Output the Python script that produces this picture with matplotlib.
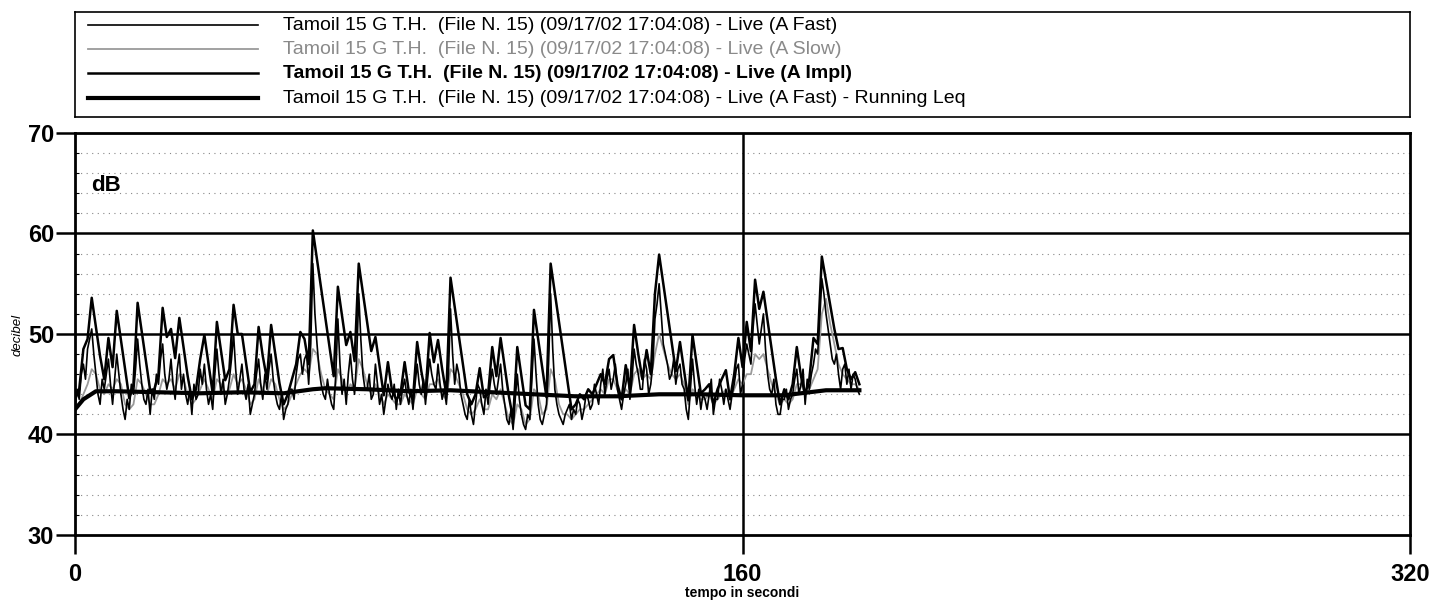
import matplotlib
matplotlib.use('Agg')
import matplotlib.pyplot as plt
from matplotlib.ticker import MultipleLocator

plt.rcParams['font.family'] = ['Liberation Sans', 'DejaVu Sans']

# A Fast, one sample every half second, 0..188 s
a_fast = [42.5, 44.5, 43.5, 46.0, 47.0, 45.5, 48.5, 49.5, 50.5, 48.0, 46.0, 44.0, 43.0, 45.5, 44.5, 46.0, 47.5, 45.0, 43.0, 45.5,
          48.0, 46.0, 44.0, 42.5, 41.5, 43.5, 42.5, 45.0, 44.0, 46.5, 49.5, 47.0, 45.0, 43.5, 43.0, 44.5, 42.0, 44.5, 43.5, 46.0,
          45.0, 47.5, 49.0, 46.0, 44.5, 45.5, 47.5, 45.0, 43.5, 46.5, 48.0, 44.5, 46.0, 44.0, 43.0, 44.5, 42.0, 45.0, 43.5, 44.0,
          46.5, 45.0, 47.0, 44.5, 43.0, 44.0, 42.5, 46.0, 48.5, 46.0, 44.0, 45.5, 43.0, 44.0, 45.5, 47.5, 50.0, 46.5, 44.0, 45.5,
          47.0, 44.5, 43.5, 45.0, 42.0, 43.0, 44.0, 46.0, 47.5, 45.0, 43.5, 46.0, 44.5, 46.5, 48.0, 45.5, 44.0, 43.0, 42.5, 44.0,
          41.5, 42.5, 43.0, 44.5, 44.5, 43.5, 46.0, 47.5, 48.0, 46.0, 47.5, 48.0, 45.0, 49.0, 57.0, 52.0, 49.0, 46.5, 45.0, 44.0,
          43.5, 45.5, 44.0, 43.0, 42.5, 46.0, 51.5, 47.0, 44.0, 45.5, 43.0, 46.0, 48.0, 45.5, 44.0, 47.5, 54.0, 49.5, 46.0, 44.5,
          44.5, 46.0, 43.5, 44.0, 47.0, 45.0, 43.0, 44.0, 42.0, 43.5, 45.0, 44.0, 43.5, 45.0, 42.5, 44.5, 43.0, 44.5, 45.5, 44.0,
          43.0, 44.5, 42.5, 45.0, 47.0, 45.0, 44.0, 45.5, 43.0, 45.5, 47.5, 46.0, 45.0, 44.5, 47.0, 45.0, 43.5, 44.5, 43.0, 46.0,
          52.5, 48.0, 45.0, 47.0, 46.0, 44.0, 43.0, 42.0, 41.5, 43.5, 42.0, 41.0, 43.0, 45.0, 44.5, 43.0, 42.0, 44.5, 43.0, 45.0,
          46.5, 45.0, 44.0, 45.5, 47.0, 44.5, 43.0, 41.5, 41.0, 42.5, 40.5, 43.5, 46.0, 43.5, 42.0, 41.0, 40.5, 42.0, 41.5, 45.5,
          49.5, 46.0, 43.0, 41.5, 41.0, 42.0, 43.0, 47.0, 54.0, 48.5, 44.5, 43.0, 42.0, 41.5, 41.0, 42.0, 42.5, 43.0, 41.5, 42.5,
          42.0, 43.5, 43.0, 41.5, 42.5, 44.0, 43.5, 42.5, 43.0, 45.0, 44.0, 43.0, 45.0, 46.5, 44.0, 45.5, 46.5, 44.5, 45.5, 47.0,
          44.5, 43.5, 42.5, 44.0, 45.0, 46.5, 43.5, 45.5, 48.5, 47.0, 46.0, 44.5, 44.5, 47.5, 46.5, 44.0, 45.0, 47.0, 51.5, 53.0,
          55.0, 52.0, 49.0, 48.0, 47.0, 45.5, 46.0, 47.5, 45.0, 46.5, 47.0, 45.0, 44.5, 42.5, 41.5, 44.5, 47.5, 45.0, 43.0, 44.5,
          42.5, 44.0, 43.5, 42.5, 44.0, 45.5, 42.0, 43.5, 43.5, 45.5, 44.5, 43.0, 44.5, 43.5, 42.5, 44.0, 45.0, 46.5, 47.0, 44.0,
          45.0, 47.5, 49.0, 48.0, 47.0, 50.5, 53.0, 51.0, 49.0, 50.5, 52.0, 48.5, 46.0, 44.5, 44.0, 45.5, 43.0, 42.0, 42.0, 43.5,
          43.5, 44.5, 42.5, 43.5, 44.0, 45.5, 46.5, 44.0, 45.0, 46.5, 43.0, 45.5, 44.5, 46.0, 47.0, 48.5, 48.0, 51.5, 55.5, 54.0,
          52.0, 50.5, 49.0, 47.5, 47.0, 48.0, 46.0, 44.5, 46.5, 47.0, 45.0, 46.5, 44.5, 46.0, 45.5, 44.5, 44.0]

# A Slow and A Impl, one sample per second, 0..188 s
a_slow = [42.5, 43.0, 44.0, 45.0, 46.5, 46.0, 44.5, 44.0, 45.0, 44.5,
          45.5, 45.0, 43.0, 42.5, 43.0, 45.5, 45.0, 44.0, 43.0, 43.0,
          44.0, 45.5, 45.0, 45.5, 44.5, 46.0, 45.5, 44.0, 43.0, 43.5,
          44.5, 45.5, 44.5, 43.5, 45.5, 45.0, 44.0, 44.5, 46.0, 45.0,
          45.5, 44.5, 43.0, 43.5, 45.5, 44.5, 44.0, 45.5, 45.0, 43.5,
          42.5, 43.0, 44.0, 45.0, 46.0, 46.5, 46.0, 48.5, 48.0, 46.0,
          44.5, 44.0, 43.5, 46.5, 45.5, 44.0, 45.0, 44.5, 47.5, 46.5,
          45.0, 44.0, 45.0, 44.0, 43.0, 44.0, 43.5, 43.0, 43.0, 44.0,
          43.5, 43.0, 44.5, 44.0, 43.5, 45.0, 45.0, 45.5, 44.0, 43.5,
          46.5, 46.0, 45.0, 44.0, 42.5, 42.0, 42.5, 43.5, 42.5, 42.5,
          44.0, 43.5, 44.5, 43.0, 41.5, 41.0, 43.0, 42.5, 41.0, 41.5,
          44.5, 44.0, 42.0, 42.5, 46.5, 45.5, 43.0, 42.0, 42.0, 41.5,
          42.0, 42.5, 42.5, 43.0, 43.5, 44.0, 44.5, 44.0, 45.5, 45.5,
          44.5, 43.5, 44.5, 44.0, 46.0, 46.5, 45.5, 46.0, 45.5, 48.0,
          50.0, 48.5, 47.0, 46.0, 45.5, 46.0, 45.0, 43.0, 44.5, 44.0,
          43.5, 43.5, 44.0, 43.0, 43.5, 44.0, 44.5, 43.5, 44.5, 45.5,
          45.0, 46.0, 46.0, 48.0, 47.5, 48.0, 46.5, 45.0, 44.0, 43.0,
          43.5, 43.0, 43.5, 45.0, 45.0, 44.0, 44.5, 45.5, 46.5, 52.0,
          53.5, 51.0, 49.0, 47.0, 46.0, 45.5, 45.0, 45.0, 44.5]

a_impl = [43.5, 44.5, 48.5, 49.5, 53.6, 50.7, 47.8, 45.5, 49.6, 46.7,
          52.3, 49.4, 46.5, 43.6, 45.0, 53.1, 50.2, 47.3, 44.4, 44.5,
          46.0, 52.6, 49.7, 50.5, 47.6, 51.6, 48.7, 45.8, 43.5, 44.5,
          47.5, 49.9, 47.0, 44.1, 51.2, 48.3, 45.4, 46.5, 52.9, 50.0,
          50.0, 47.1, 44.2, 45.0, 50.7, 47.8, 45.5, 50.9, 48.0, 45.1,
          43.0, 44.0, 45.5, 47.0, 50.2, 49.5, 47.0, 60.3, 57.4, 54.5,
          51.6, 48.7, 45.8, 54.7, 51.8, 48.9, 50.2, 47.3, 57.0, 54.1,
          51.2, 48.3, 49.7, 46.8, 43.9, 47.2, 44.3, 43.5, 44.0, 47.2,
          44.3, 43.5, 49.2, 46.3, 44.0, 50.1, 47.2, 49.4, 46.5, 44.0,
          55.6, 52.7, 49.8, 46.9, 44.0, 43.0, 44.0, 46.6, 43.7, 44.0,
          48.7, 45.8, 49.6, 46.7, 43.8, 41.5, 48.7, 45.8, 42.9, 42.5,
          52.4, 49.5, 46.6, 43.7, 57.0, 54.1, 51.2, 48.3, 45.4, 42.5,
          43.0, 44.0, 43.5, 44.5, 44.0, 45.0, 46.0, 45.0, 47.5, 47.9,
          45.0, 43.5, 46.9, 44.5, 50.9, 48.0, 45.5, 48.4, 46.0, 54.0,
          57.9, 55.0, 52.1, 49.2, 46.3, 49.2, 46.3, 43.4, 49.9, 47.0,
          44.1, 44.5, 45.0, 43.0, 44.5, 45.5, 46.4, 43.5, 46.0, 49.6,
          46.7, 51.2, 48.3, 55.4, 52.5, 54.2, 51.3, 48.4, 45.5, 43.0,
          44.5, 43.5, 45.0, 48.7, 45.8, 44.0, 45.5, 49.6, 49.0, 57.7,
          55.3, 52.9, 50.5, 48.5, 48.6, 46.5, 45.5, 46.2, 45.0]

t_fast = [i * 0.5 for i in range(len(a_fast))]
t_sec = list(range(len(a_slow)))

leq_t = [0, 2, 5, 10, 20, 30, 40, 50, 57, 60, 70, 80, 90, 100, 110, 120,
         130, 140, 150, 160, 170, 180, 188]
leq_v = [42.5, 43.5, 44.3, 44.3, 44.2, 44.1, 44.2, 44.1, 44.5, 44.6, 44.5,
         44.3, 44.4, 44.2, 44.0, 43.8, 43.8, 44.0, 44.0, 43.9, 43.9, 44.4, 44.4]

legend_labels = [
    'Tamoil 15 G T.H.  (File N. 15) (09/17/02 17:04:08) - Live (A Fast)',
    'Tamoil 15 G T.H.  (File N. 15) (09/17/02 17:04:08) - Live (A Slow)',
    'Tamoil 15 G T.H.  (File N. 15) (09/17/02 17:04:08) - Live (A Impl)',
    'Tamoil 15 G T.H.  (File N. 15) (09/17/02 17:04:08) - Live (A Fast) - Running Leq',
]

fig = plt.figure(figsize=(14.32, 6.01), dpi=100)
ax = fig.add_axes([0.0524, 0.1098, 0.9323, 0.669])

ax.set_xlim(0, 320)
ax.set_ylim(30, 70)

# grid: solid every 10 dB, dotted every 2 dB
for y in range(32, 70, 2):
    if y % 10:
        ax.axhline(y, color='#888888', lw=0.8, ls=(0, (1, 4)), zorder=1)
for y in (40, 50, 60):
    ax.axhline(y, color='black', lw=1.8, zorder=1)
ax.axvline(160, color='black', lw=1.8, zorder=1)

ax.plot(t_sec, a_slow, color='#9a9a9a', lw=1.3, zorder=3)
ax.plot(t_fast, a_fast, color='black', lw=1.2, zorder=4)
ax.plot(t_sec, a_impl, color='black', lw=1.8, zorder=5)
ax.plot(leq_t, leq_v, color='black', lw=3.0, zorder=6)

for s in ax.spines.values():
    s.set_linewidth(2)
ax.set_xticks([0, 160, 320])
ax.set_yticks([30, 40, 50, 60, 70])
ax.yaxis.set_minor_locator(MultipleLocator(2))
ax.tick_params(axis='both', which='major', length=14, width=1.8, labelsize=17)
ax.tick_params(axis='y', which='major', pad=1)
ax.tick_params(axis='x', which='major', pad=6)
ax.tick_params(axis='y', which='minor', length=3, width=0.8, direction='in')
for lab in ax.get_xticklabels() + ax.get_yticklabels():
    lab.set_fontweight('bold')

ax.set_xlabel('tempo in secondi', fontsize=10, fontweight='bold')
ax.xaxis.set_label_coords(0.5, -0.144)
ax.xaxis.label.set_va('center')
fig.text(18 / 1432, 1 - 335 / 601, 'decibel', rotation=90, fontsize=9.5,
         fontstyle='italic', ha='center', va='center')
ax.text(0.012, 0.87, 'dB', transform=ax.transAxes, fontsize=16, fontweight='bold',
        ha='left', va='center')

# legend box
lg = fig.add_axes([0.0524, 0.8053, 0.9323, 0.1747])
lg.set_xlim(0, 1)
lg.set_ylim(0, 1)
lg.set_xticks([])
lg.set_yticks([])
for s in lg.spines.values():
    s.set_linewidth(1.2)
rows = [0.876, 0.645, 0.415, 0.18]
styles = [('black', 1.2, 'black', 'normal'),
          ('#9a9a9a', 1.3, '#8a8a8a', 'normal'),
          ('black', 1.8, 'black', 'bold'),
          ('black', 3.0, 'black', 'normal')]
for yy, label, (lc, lw, tc, fw) in zip(rows, legend_labels, styles):
    lg.plot([0.0097, 0.137], [yy, yy], color=lc, lw=lw)
    lg.text(0.156, yy, label, color=tc, fontsize=14, fontweight=fw,
            ha='left', va='center')

fig.savefig('out.png', dpi=100)
